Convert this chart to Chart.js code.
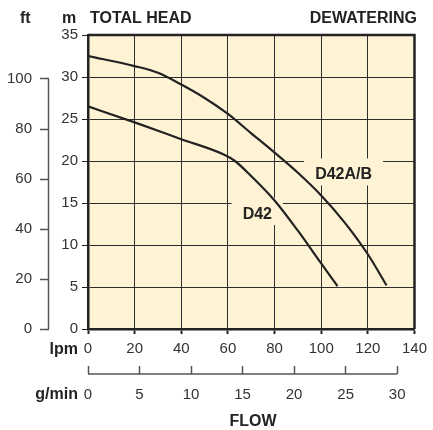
<!DOCTYPE html>
<html>
<head>
<meta charset="utf-8">
<script src="https://cdn.jsdelivr.net/npm/chart.js@4.4.1/dist/chart.umd.min.js"></script>
<style>
  html, body { margin: 0; padding: 0; background: #fff; }
  canvas { display: block; }
</style>
</head>
<body>
<canvas id="pumpChart" width="433" height="430"></canvas>
<script>
// pump curves, flow in lpm, head in m
const flowA = [0, 20, 30, 40, 50, 60, 70, 80, 90, 100, 110, 120, 128];
const headA = [32.5, 31.3, 30.5, 29.1, 27.5, 25.6, 23.3, 21.0, 18.6, 15.9, 12.7, 8.9, 5.2];
const flowB = [0, 20, 40, 58, 63, 70, 80, 90, 100, 107];
const headB = [26.5, 24.6, 22.6, 20.8, 20.0, 18.2, 15.3, 11.7, 7.8, 5.1];

const lpmTicks = [0, 20, 40, 60, 80, 100, 120, 140];
const gpmTicks = [0, 5, 10, 15, 20, 25, 30];
const mTicks = [0, 5, 10, 15, 20, 25, 30, 35];
const ftTicks = [0, 20, 40, 60, 80, 100];

// curve labels: [text, flow, head]
const curveLabels = [["D42A/B", 109.6, 17.8], ["D42", 72.6, 13.1]];

const C = {
  cream: "#fff3d5",
  ink: "#222222",
  grid: "#2e2e2e",
  tick: "#333333"
};
const FONT = '"Liberation Sans", Arial, sans-serif';

function pts(xs, ys) {
  return xs.map((x, i) => ({ x, y: ys[i] }));
}

function keepTicks(list) {
  return scale => { scale.ticks = list.map(v => ({ value: v })); };
}

const bgPlugin = {
  id: "bg",
  beforeDraw(chart) {
    const { ctx, chartArea: a } = chart;
    ctx.save();
    ctx.fillStyle = "#fff";
    ctx.fillRect(0, 0, chart.width, chart.height);
    ctx.fillStyle = C.cream;
    ctx.fillRect(a.left, a.top, a.right - a.left, a.bottom - a.top);
    ctx.restore();
  },
  beforeDatasetsDraw(chart) {
    // cream boxes that break the grid behind the curve names
    const { ctx, scales } = chart;
    ctx.save();
    ctx.font = "bold 16px " + FONT;
    ctx.fillStyle = C.cream;
    curveLabels.forEach(([t, fx, fy]) => {
      const x = scales.x.getPixelForValue(fx);
      const y = scales.y.getPixelForValue(fy);
      const w = ctx.measureText(t).width + 22;
      ctx.fillRect(x - w / 2, y - 21, w, 27);
    });
    ctx.restore();
  },
  afterDatasetsDraw(chart) {
    const { ctx, chartArea: a, scales } = chart;
    ctx.save();
    // frame top and right
    ctx.strokeStyle = C.ink;
    ctx.lineWidth = 2.5;
    ctx.beginPath();
    ctx.moveTo(a.left, a.top);
    ctx.lineTo(a.right, a.top);
    ctx.lineTo(a.right, a.bottom);
    ctx.stroke();

    // ft axis line
    const ft = scales.ft;
    ctx.strokeStyle = "#555";
    ctx.lineWidth = 1.5;
    ctx.beginPath();
    ctx.moveTo(ft.right - 0.5, ft.getPixelForValue(0));
    ctx.lineTo(ft.right - 0.5, ft.getPixelForValue(100));
    ctx.stroke();

    // g/min axis line
    const g = scales.x2;
    const gy = g.top + 8;
    ctx.beginPath();
    ctx.moveTo(g.getPixelForValue(0), gy);
    ctx.lineTo(g.getPixelForValue(30), gy);
    ctx.stroke();

    // curve names
    ctx.fillStyle = C.ink;
    ctx.font = "bold 16px " + FONT;
    ctx.textAlign = "center";
    ctx.textBaseline = "alphabetic";
    curveLabels.forEach(([t, fx, fy]) => {
      ctx.fillText(t, scales.x.getPixelForValue(fx), scales.y.getPixelForValue(fy));
    });

    // headings
    ctx.textAlign = "left";
    ctx.fillText("ft", 20, 23);
    ctx.fillText("m", 62, 23);
    ctx.fillText("TOTAL HEAD", 90, 23);
    ctx.textAlign = "right";
    ctx.fillText("DEWATERING", 417, 23);
    ctx.fillText("lpm", 78, 354);
    ctx.fillText("g/min", 78, 399);
    ctx.textAlign = "center";
    ctx.fillText("FLOW", 253, 426);
    ctx.restore();
  }
};

function curve(label, data) {
  return {
    label,
    data,
    borderColor: C.ink,
    borderWidth: 2.2,
    pointRadius: 0,
    fill: false,
    cubicInterpolationMode: "monotone"
  };
}

new Chart(document.getElementById("pumpChart"), {
  type: "line",
  data: {
    datasets: [curve("D42A/B", pts(flowA, headA)), curve("D42", pts(flowB, headB))]
  },
  options: {
    responsive: false,
    animation: false,
    layout: { padding: { top: 35, right: 15, left: 0, bottom: 0 } },
    plugins: { legend: { display: false }, tooltip: { enabled: false } },
    scales: {
      x: {
        type: "linear",
        position: "bottom",
        weight: 0,
        min: 0,
        max: 140,
        afterBuildTicks: keepTicks(lpmTicks),
        ticks: { color: C.tick, font: { family: FONT, size: 15 }, padding: 6, maxRotation: 0, autoSkip: false },
        grid: { color: C.grid, lineWidth: 1, tickLength: 5, tickColor: C.ink, tickWidth: 2 },
        border: { color: C.ink, width: 2.5 },
        afterFit: s => { s.height = 37; }
      },
      x2: {
        type: "linear",
        position: "bottom",
        weight: 1,
        min: 0,
        max: 31.68,
        afterBuildTicks: keepTicks(gpmTicks),
        ticks: { color: C.tick, font: { family: FONT, size: 15 }, padding: 12, maxRotation: 0, autoSkip: false },
        grid: { drawOnChartArea: false, tickLength: 8, tickColor: "#555", tickWidth: 1.5 },
        border: { display: false },
        afterFit: s => { s.height = 64; }
      },
      y: {
        type: "linear",
        position: "left",
        weight: 0,
        min: 0,
        max: 35,
        afterBuildTicks: keepTicks(mTicks),
        ticks: { color: C.tick, font: { family: FONT, size: 15 }, padding: 4, autoSkip: false },
        grid: { color: C.grid, lineWidth: 1, tickLength: 6, tickColor: C.ink, tickWidth: 1 },
        border: { color: C.ink, width: 2.5 },
        afterFit: s => { s.width = 39; }
      },
      ft: {
        type: "linear",
        position: "left",
        weight: 1,
        min: 0,
        max: 117.6,
        afterBuildTicks: keepTicks(ftTicks),
        ticks: { color: C.tick, font: { family: FONT, size: 15 }, padding: 8, autoSkip: false },
        grid: { drawOnChartArea: false, tickLength: 9, tickColor: "#555", tickWidth: 1.5 },
        border: { display: false },
        afterFit: s => { s.width = 49; }
      }
    }
  },
  plugins: [bgPlugin]
});
</script>
</body>
</html>
